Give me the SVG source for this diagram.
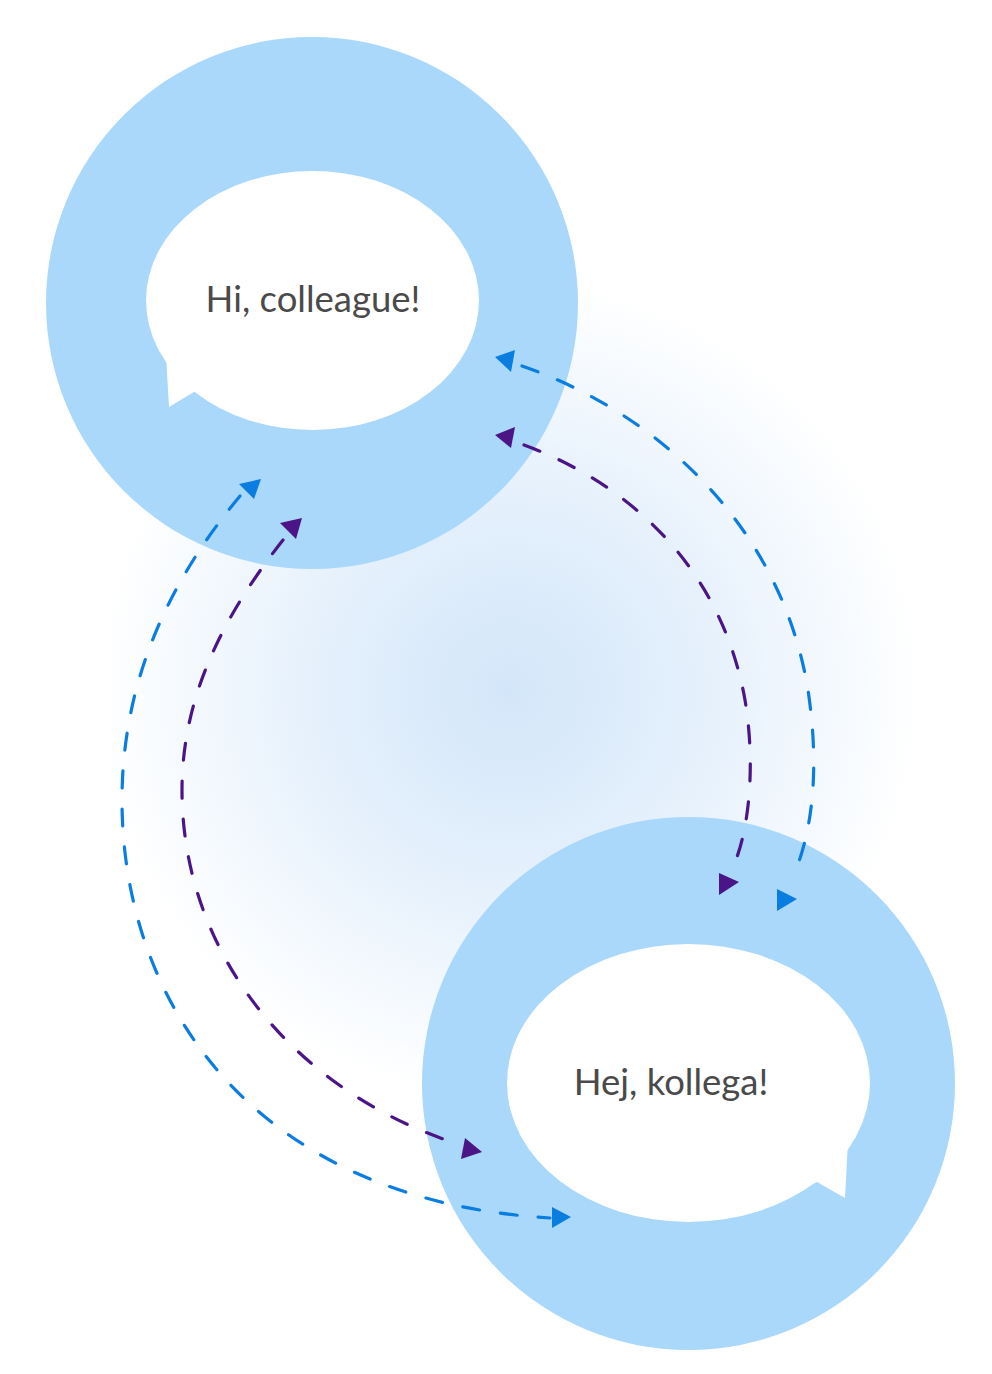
<svg xmlns="http://www.w3.org/2000/svg" width="992" height="1374" viewBox="0 0 992 1374">
<defs>
<radialGradient id="glow" cx="510" cy="690" r="410" gradientUnits="userSpaceOnUse">
<stop offset="0" stop-color="#d3e6f9"/>
<stop offset="0.5" stop-color="#e6f1fc"/>
<stop offset="1" stop-color="#ffffff"/>
</radialGradient>
<style>
.ring{fill:#aad8fb}
.bubble{fill:#ffffff}
.label{font-family:Lato,"Noto Sans",sans-serif;font-size:36.5px;fill:#4a4a4a;text-anchor:middle}
.blue{stroke:#0a7de0}
.purple{stroke:#4b1587}
.dash{fill:none;stroke-width:3.2;stroke-linecap:round;stroke-dasharray:17 21}
.headb{fill:#0a7de0}
.headp{fill:#4b1587}
</style>
</defs>
<rect width="992" height="1374" fill="#ffffff"/>
<rect width="992" height="1374" fill="url(#glow)"/>
<g id="node-en">
<circle class="ring" cx="312" cy="303" r="266"/>
<ellipse class="bubble" cx="312.5" cy="300.5" rx="166.5" ry="129.5"/>
<polygon class="bubble" points="166,355 169,407 194,392 210,380"/>
<text class="label" x="313" y="312">Hi, colleague!</text>
</g>
<g id="node-sv">
<circle class="ring" cx="688.5" cy="1083.5" r="266.5"/>
<ellipse class="bubble" cx="688.5" cy="1083" rx="181.5" ry="139"/>
<polygon class="bubble" points="848,1140 845,1198 817,1182 800,1190"/>
<text class="label" x="671" y="1095">Hej, kollega!</text>
</g>
<g id="connectors">
<path class="dash blue" d="M522,366 C650,410 780,520 808,690 C820,770 812,830 795,872"/>
<path class="dash purple" d="M524,445 C620,480 720,560 745,700 C755,760 750,820 737,857"/>
<path class="dash blue" d="M240,496 C170,580 122,680 122,800 C122,1000 250,1200 550,1218"/>
<path class="dash purple" d="M283,540 C220,620 182,700 182,790 C182,950 290,1090 458,1144"/>
<polygon class="headb" points="495,357 515,350 511,372"/>
<polygon class="headp" points="495,435 515,427 511,448"/>
<polygon class="headb" points="261,479 239,484 254,499"/>
<polygon class="headp" points="302,518 280,523 296,539"/>
<polygon class="headb" points="797,899 777,889 777,911"/>
<polygon class="headp" points="739,882 719,873 719,895"/>
<polygon class="headb" points="571,1217 552,1207 552,1228"/>
<polygon class="headp" points="482,1152 465,1138 461,1159"/>
</g>
</svg>
